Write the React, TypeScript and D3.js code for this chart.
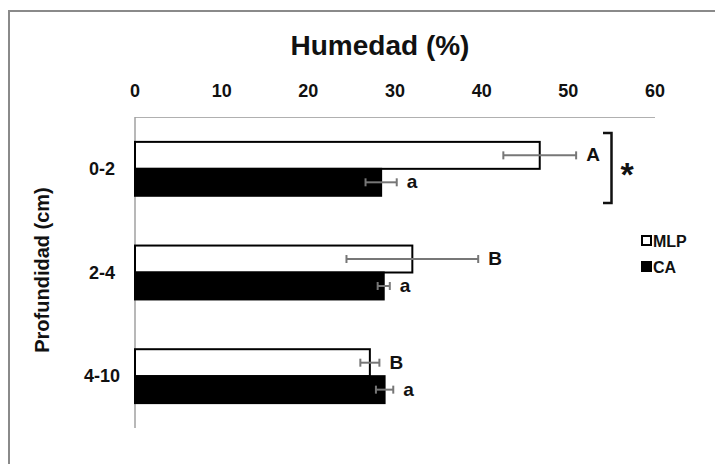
import React from 'react';
import * as d3 from 'd3';

// profundidades (categorias del eje y)
const depths = ['0-2', '2-4', '4-10'];
const seriesNames = ['MLP', 'CA'];
// humedad media (%)
const mlpValues = [46.7, 32.0, 27.1];
const caValues = [28.4, 28.7, 28.8];
// error (+/-)
const mlpErr = [4.2, 7.6, 1.1];
const caErr = [1.8, 0.7, 1.0];
// letras de significancia
const mlpLetters = ['A', 'B', 'B'];
const caLetters = ['a', 'a', 'a'];
const xTicks = [0, 10, 20, 30, 40, 50, 60];

const W = 715;
const H = 464;
const FONT = '"Liberation Sans", Arial, sans-serif';

export default function App() {
  const x = d3.scaleLinear().domain([0, 60]).range([135, 655]);
  const y = d3.scaleBand().domain(depths).range([117, 428]).paddingInner(0.48).paddingOuter(0.24);
  const sub = d3.scaleBand().domain(seriesNames).range([0, y.bandwidth()]);

  const rows = depths.map((d, i) => ({
    depth: d,
    bars: [
      { name: 'MLP', value: mlpValues[i], err: mlpErr[i], letter: mlpLetters[i], fill: '#fff' },
      { name: 'CA', value: caValues[i], err: caErr[i], letter: caLetters[i], fill: '#000' },
    ],
  }));

  const cap = 4;

  return (
    <div style={{ position: 'absolute', left: 0, top: 0 }}>
      <svg width={W} height={H} style={{ display: 'block', fontFamily: FONT }}>
        <rect width={W} height={H} fill="#fff" />
        {/* marco */}
        <path d={`M9,${H} V11 H${W}`} fill="none" stroke="#8a8a8a" strokeWidth={2} />

        <text x={380} y={55} textAnchor="middle" fontSize={28} fontWeight="bold" fill="#111">
          Humedad (%)
        </text>

        {xTicks.map((t) => (
          <text key={t} x={x(t)} y={97} textAnchor="middle" fontSize={18} fontWeight="bold" fill="#111">
            {t}
          </text>
        ))}

        {/* ejes */}
        <line x1={x(0)} x2={x(60)} y1={117.5} y2={117.5} stroke="#b0b0b0" strokeWidth={1} />
        <line x1={x(0)} x2={x(0)} y1={117} y2={428} stroke="#a0a0a0" strokeWidth={1.5} />

        <text
          transform={`translate(49,270) rotate(-90)`}
          textAnchor="middle"
          fontSize={20}
          fontWeight="bold"
          fill="#111"
        >
          Profundidad (cm)
        </text>

        {rows.map((r) => (
          <g key={r.depth}>
            <text
              x={102}
              y={(y(r.depth) as number) + y.bandwidth() / 2 + 6}
              textAnchor="middle"
              fontSize={18}
              fontWeight="bold"
              fill="#111"
            >
              {r.depth}
            </text>
            {r.bars.map((b) => {
              const y0 = (y(r.depth) as number) + (sub(b.name) as number);
              const cy = y0 + sub.bandwidth() / 2;
              const hi = x(b.value + b.err);
              return (
                <g key={b.name}>
                  <rect
                    x={x(0)}
                    y={y0}
                    width={x(b.value) - x(0)}
                    height={sub.bandwidth()}
                    fill={b.fill}
                    stroke="#000"
                    strokeWidth={2}
                  />
                  <line x1={x(b.value - b.err)} x2={hi} y1={cy} y2={cy} stroke="#777" strokeWidth={2} />
                  <line x1={x(b.value - b.err)} x2={x(b.value - b.err)} y1={cy - cap} y2={cy + cap} stroke="#777" strokeWidth={2} />
                  <line x1={hi} x2={hi} y1={cy - cap} y2={cy + cap} stroke="#777" strokeWidth={2} />
                  <text x={hi + 10} y={cy + 6} fontSize={19} fontWeight="bold" fill="#111">
                    {b.letter}
                  </text>
                </g>
              );
            })}
          </g>
        ))}

        {/* corchete de significancia */}
        <path d="M603,133 H611.5 V203 H603" fill="none" stroke="#111" strokeWidth={2.5} />
        <text x={627} y={186} textAnchor="middle" fontSize={34} fontWeight="bold" fill="#111">
          *
        </text>

        {/* leyenda */}
        {seriesNames.map((s, i) => (
          <g key={s} transform={`translate(642,${241 + i * 26})`}>
            <rect x={0} y={-5} width={9} height={9} fill={i === 0 ? '#fff' : '#000'} stroke="#000" strokeWidth={2} />
            <text x={11} y={6} fontSize={16} fontWeight="bold" fill="#111">
              {s}
            </text>
          </g>
        ))}
      </svg>
    </div>
  );
}
